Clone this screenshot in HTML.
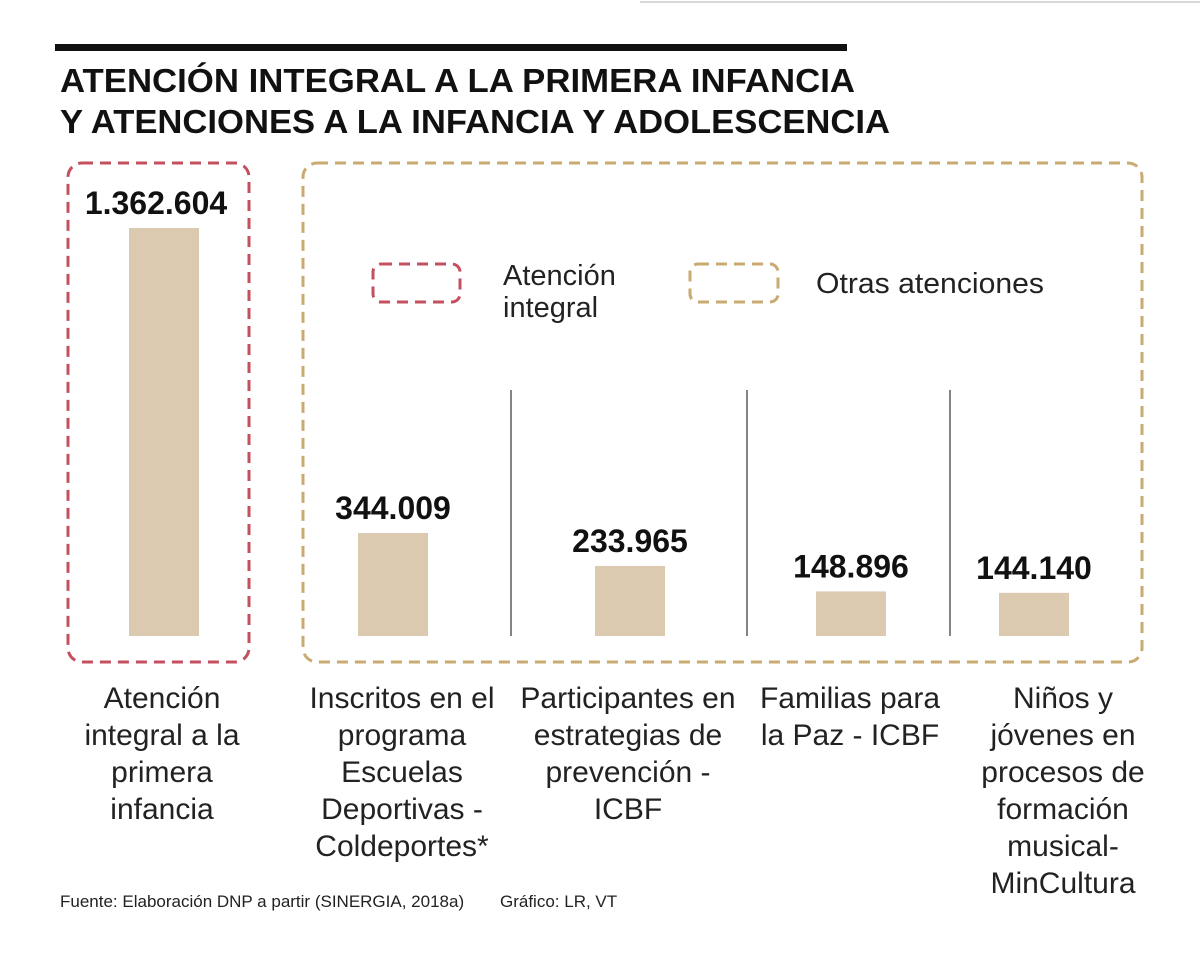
<!DOCTYPE html>
<html><head><meta charset="utf-8"><style>
body{margin:0;background:#fff;width:1200px;height:954px;overflow:hidden;font-family:"Liberation Sans",sans-serif;}
svg{display:block}
</style></head><body>
<svg width="1200" height="954" xmlns="http://www.w3.org/2000/svg" id="chart">
<line x1="640" y1="2" x2="1200" y2="2" stroke="#ccc" stroke-width="1.5"/>
<rect x="55" y="44" width="792" height="7" fill="#111"/>
<text x="60" y="92" font-size="33" font-weight="bold" fill="#111" textLength="795" lengthAdjust="spacingAndGlyphs">ATENCIÓN INTEGRAL A LA PRIMERA INFANCIA</text>
<text x="60" y="133" font-size="33" font-weight="bold" fill="#111" textLength="830" lengthAdjust="spacingAndGlyphs">Y ATENCIONES A LA INFANCIA Y ADOLESCENCIA</text>
<rect x="68" y="163" width="181" height="499" rx="14" fill="none" stroke="#c4505f" stroke-width="3" stroke-dasharray="11,7"/>
<rect x="303" y="163" width="839" height="499" rx="14" fill="none" stroke="#c8aa72" stroke-width="3" stroke-dasharray="11,7"/>
<rect x="373" y="264" width="87" height="38" rx="8" fill="none" stroke="#c4505f" stroke-width="3" stroke-dasharray="11,7"/>
<text x="503" y="285" font-size="29" fill="#222">Atención</text>
<text x="503" y="317" font-size="29" fill="#222">integral</text>
<rect x="690" y="264" width="88" height="38" rx="8" fill="none" stroke="#c8aa72" stroke-width="3" stroke-dasharray="11,7"/>
<text x="816" y="293" font-size="29" fill="#222" textLength="228" lengthAdjust="spacingAndGlyphs">Otras atenciones</text>
<line x1="511" y1="390" x2="511" y2="636" stroke="#333" stroke-width="1.2"/>
<line x1="747" y1="390" x2="747" y2="636" stroke="#333" stroke-width="1.2"/>
<line x1="950" y1="390" x2="950" y2="636" stroke="#333" stroke-width="1.2"/>
<g id="bars"></g>
<text x="60" y="907" font-size="17" fill="#222">Fuente: Elaboración DNP a partir (SINERGIA, 2018a)</text>
<text x="500" y="907" font-size="17" fill="#222">Gráfico: LR, VT</text>
</svg>
<script>
const categories=[["Atención","integral a la","primera","infancia"],["Inscritos en el","programa","Escuelas","Deportivas -","Coldeportes*"],["Participantes en","estrategias de","prevención -","ICBF"],["Familias para","la Paz - ICBF"],["Niños y","jóvenes en","procesos de","formación","musical-","MinCultura"]];
const values=[1362604,344009,233965,148896,144140];
const valueLabels=["1.362.604","344.009","233.965","148.896","144.140"];
const centers=[164,393,630,851,1034];
const labelCenters=[162,402,628,850,1063];
const baseY=636,scale=408/1362604,barW=70;
function y(v){return baseY-v*scale;}
const g=document.getElementById('bars');
const NS="http://www.w3.org/2000/svg";
values.forEach((v,i)=>{
 const r=document.createElementNS(NS,'rect');
 r.setAttribute('x',centers[i]-barW/2);r.setAttribute('y',y(v));
 r.setAttribute('width',barW);r.setAttribute('height',baseY-y(v));
 r.setAttribute('fill','#dccab0');
 
 
 g.appendChild(r);
 const t=document.createElementNS(NS,'text');
 t.setAttribute('x',centers[i]-(i===0?8:0));t.setAttribute('y',y(v)-14);
 t.setAttribute('text-anchor','middle');t.setAttribute('font-size','32');t.setAttribute('font-weight','bold');t.setAttribute('fill','#111');
 t.textContent=valueLabels[i];
 
 
 g.appendChild(t);
 categories[i].forEach((line,j)=>{
  const c=document.createElementNS(NS,'text');
  c.setAttribute('x',labelCenters[i]);c.setAttribute('y',708+j*37);
  c.setAttribute('text-anchor','middle');c.setAttribute('font-size','30');c.setAttribute('fill','#222');
  c.textContent=line;
  
  
  g.appendChild(c);
 });
});
</script>
</body></html>
